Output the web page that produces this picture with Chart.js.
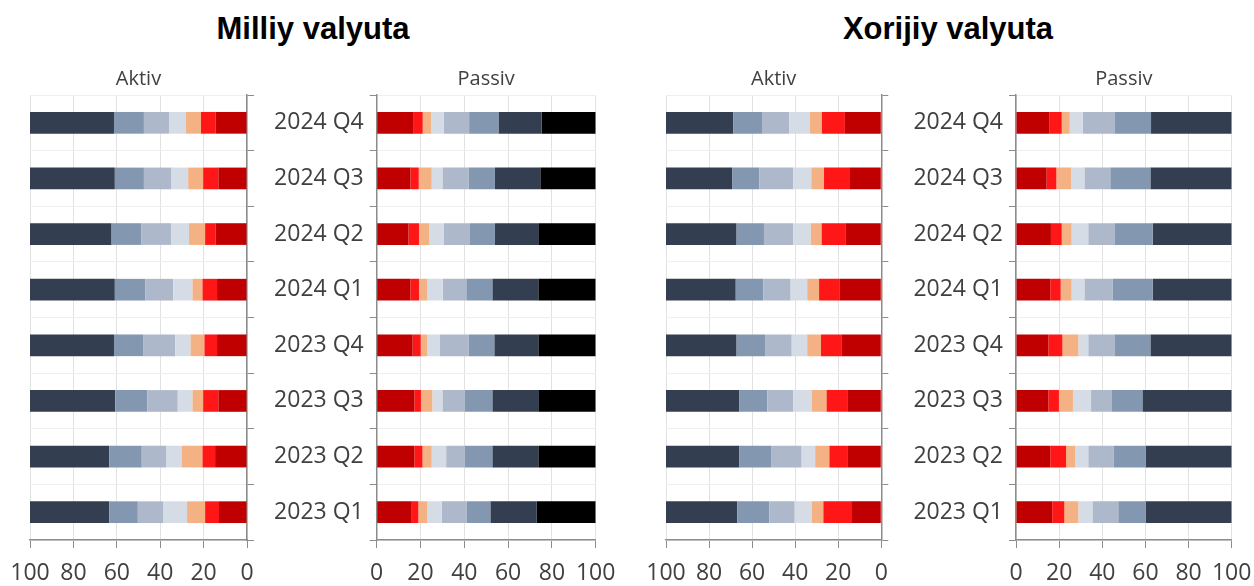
<!DOCTYPE html>
<html>
<head>
<meta charset="utf-8">
<script src="https://cdn.jsdelivr.net/npm/chart.js@4.4.1/dist/chart.umd.min.js"></script>
<style>
    body { margin: 0; background: #fff; }
    #wrap { position: relative; width: 1254px; height: 586px; overflow: hidden; }
    #wrap canvas { position: absolute; top: 61px; }
    .head { position: absolute; top: 12px; width: 400px; text-align: center;
            font: bold 31px "Liberation Sans", Arial, sans-serif; line-height: 34px; color: #000; }
</style>
</head>
<body>
<div id="wrap">
    <div class="head" style="left: 113px;">Milliy valyuta</div>
    <div class="head" style="left: 748px;">Xorijiy valyuta</div>
    <canvas id="milliy-aktiv" width="265" height="525" style="left: 0px;"></canvas>
    <canvas id="milliy-passiv" width="360" height="525" style="left: 262px;"></canvas>
    <canvas id="xorijiy-aktiv" width="265" height="525" style="left: 630px;"></canvas>
    <canvas id="xorijiy-passiv" width="359" height="525" style="left: 895px;"></canvas>
</div>
<script>
// quarters, top to bottom
const quarters = ['2024 Q4', '2024 Q3', '2024 Q2', '2024 Q1', '2023 Q4', '2023 Q3', '2023 Q2', '2023 Q1'];
const xTicks = [0, 20, 40, 60, 80, 100];

// segment colours, from 0 outwards
const segColors = ['#C00000', '#FF1616', '#F4B183', '#D6DCE5', '#ADB9CA', '#8497B0', '#333F50', '#000000'];

// shares (%) per segment, one array per segment, values per quarter
const milliyAktiv = [
    [14.4, 13.2, 14.4, 13.8, 13.8, 13.2, 14.7, 12.9],
    [6.8, 7.0, 4.9, 6.7, 5.8, 7.0, 5.8, 6.4],
    [7.0, 6.9, 7.4, 4.6, 6.4, 4.9, 9.5, 8.3],
    [7.7, 7.7, 8.3, 8.9, 7.1, 6.8, 7.1, 11.1],
    [11.6, 12.7, 13.6, 12.9, 14.8, 14.1, 11.4, 11.6],
    [13.8, 13.4, 13.8, 14.0, 13.4, 14.7, 15.0, 13.2],
    [38.7, 39.1, 37.6, 39.1, 38.7, 39.3, 36.5, 36.5]
];
const milliyPassiv = [
    [16.9, 15.4, 14.5, 15.4, 16.4, 17.2, 17.2, 16.0],
    [4.1, 3.8, 4.8, 3.9, 3.7, 3.0, 3.7, 3.0],
    [3.8, 5.9, 4.7, 3.7, 3.0, 5.2, 4.2, 4.0],
    [5.8, 4.9, 6.7, 7.1, 5.8, 4.6, 6.6, 6.7],
    [11.6, 11.9, 11.9, 10.8, 13.0, 10.3, 8.6, 11.5],
    [13.4, 12.1, 11.4, 11.9, 11.8, 12.5, 12.5, 10.7],
    [19.7, 20.7, 20.1, 21.0, 20.1, 21.3, 21.0, 21.2],
    [24.7, 25.3, 25.9, 26.2, 26.2, 25.9, 26.2, 26.9]
];
const xorijiyAktiv = [
    [16.9, 14.9, 16.7, 19.5, 18.3, 15.8, 15.5, 13.6],
    [10.7, 11.7, 11.0, 9.4, 9.7, 9.6, 8.6, 13.3],
    [5.5, 5.9, 5.0, 5.5, 6.4, 6.8, 6.6, 5.3],
    [9.6, 8.4, 8.2, 7.7, 7.2, 8.7, 6.3, 8.0],
    [12.7, 15.8, 13.6, 12.7, 12.4, 12.0, 14.2, 11.8],
    [13.3, 12.6, 12.7, 12.8, 13.2, 13.0, 14.7, 14.9],
    [31.3, 30.7, 32.8, 32.4, 32.8, 34.1, 34.1, 33.1]
];
const xorijiyPassiv = [
    [15.6, 14.2, 16.2, 15.9, 15.0, 15.0, 15.9, 16.8],
    [5.6, 4.5, 5.0, 4.8, 6.5, 4.9, 7.3, 5.6],
    [3.7, 6.8, 4.6, 5.1, 7.4, 6.5, 4.2, 6.5],
    [6.0, 6.2, 7.7, 5.9, 4.6, 8.4, 6.1, 6.5],
    [14.7, 12.0, 12.1, 13.0, 12.1, 9.7, 11.9, 12.0],
    [17.0, 18.6, 17.8, 18.7, 16.7, 14.1, 14.7, 12.7],
    [37.4, 37.7, 36.6, 36.6, 37.7, 41.4, 39.9, 39.9]
];

const tickFont = { family: '"Open Sans", sans-serif', size: 23 };

function makePanel(id, title, series, aktiv, pad, yWidth) {
    new Chart(document.getElementById(id), {
        type: 'bar',
        data: {
            labels: quarters,
            datasets: series.map((vals, i) => ({
                data: vals,
                backgroundColor: segColors[i],
                borderWidth: 0,
                barPercentage: 0.39,
                categoryPercentage: 1
            }))
        },
        options: {
            indexAxis: 'y',
            responsive: false,
            animation: false,
            layout: { padding: pad },
            plugins: {
                legend: { display: false },
                tooltip: { enabled: false },
                title: {
                    display: true,
                    text: title,
                    fullSize: false,
                    color: '#404040',
                    font: { family: '"Open Sans", sans-serif', size: 20, weight: 'normal' },
                    padding: { top: 6, bottom: 4 }
                }
            },
            scales: {
                x: {
                    stacked: true,
                    min: 0,
                    max: 100,
                    reverse: aktiv,
                    afterBuildTicks: s => { s.ticks = xTicks.map(v => ({ value: v })); },
                    afterFit: s => { s.height = 46; s.paddingLeft = 0; s.paddingRight = 0; },
                    grid: { color: '#E2E2E2', tickColor: '#8C8C8C', tickLength: 8 },
                    border: { color: '#8C8C8C', width: 1.5 },
                    ticks: { color: '#404040', font: tickFont, padding: 12, maxRotation: 0, autoSkip: false }
                },
                y: {
                    stacked: true,
                    position: aktiv ? 'right' : 'left',
                    afterFit: s => { s.width = yWidth; },
                    grid: { color: '#EFEFEF', tickColor: '#8C8C8C', tickLength: 7 },
                    border: { color: '#8C8C8C', width: 1.5 },
                    ticks: { display: !aktiv, color: '#404040', font: tickFont, padding: 6 }
                }
            }
        }
    });
}

makePanel('milliy-aktiv', 'Aktiv', milliyAktiv, true, { left: 30, right: 10, top: 0, bottom: 0 }, 8);
makePanel('milliy-passiv', 'Passiv', milliyPassiv, false, { left: 0, right: 26.3, top: 0, bottom: 0 }, 114.7);
makePanel('xorijiy-aktiv', 'Aktiv', xorijiyAktiv, true, { left: 36, right: 5.7, top: 0, bottom: 0 }, 8);
makePanel('xorijiy-passiv', 'Passiv', xorijiyPassiv, false, { left: 0, right: 22.3, top: 0, bottom: 0 }, 121);
</script>
</body>
</html>
